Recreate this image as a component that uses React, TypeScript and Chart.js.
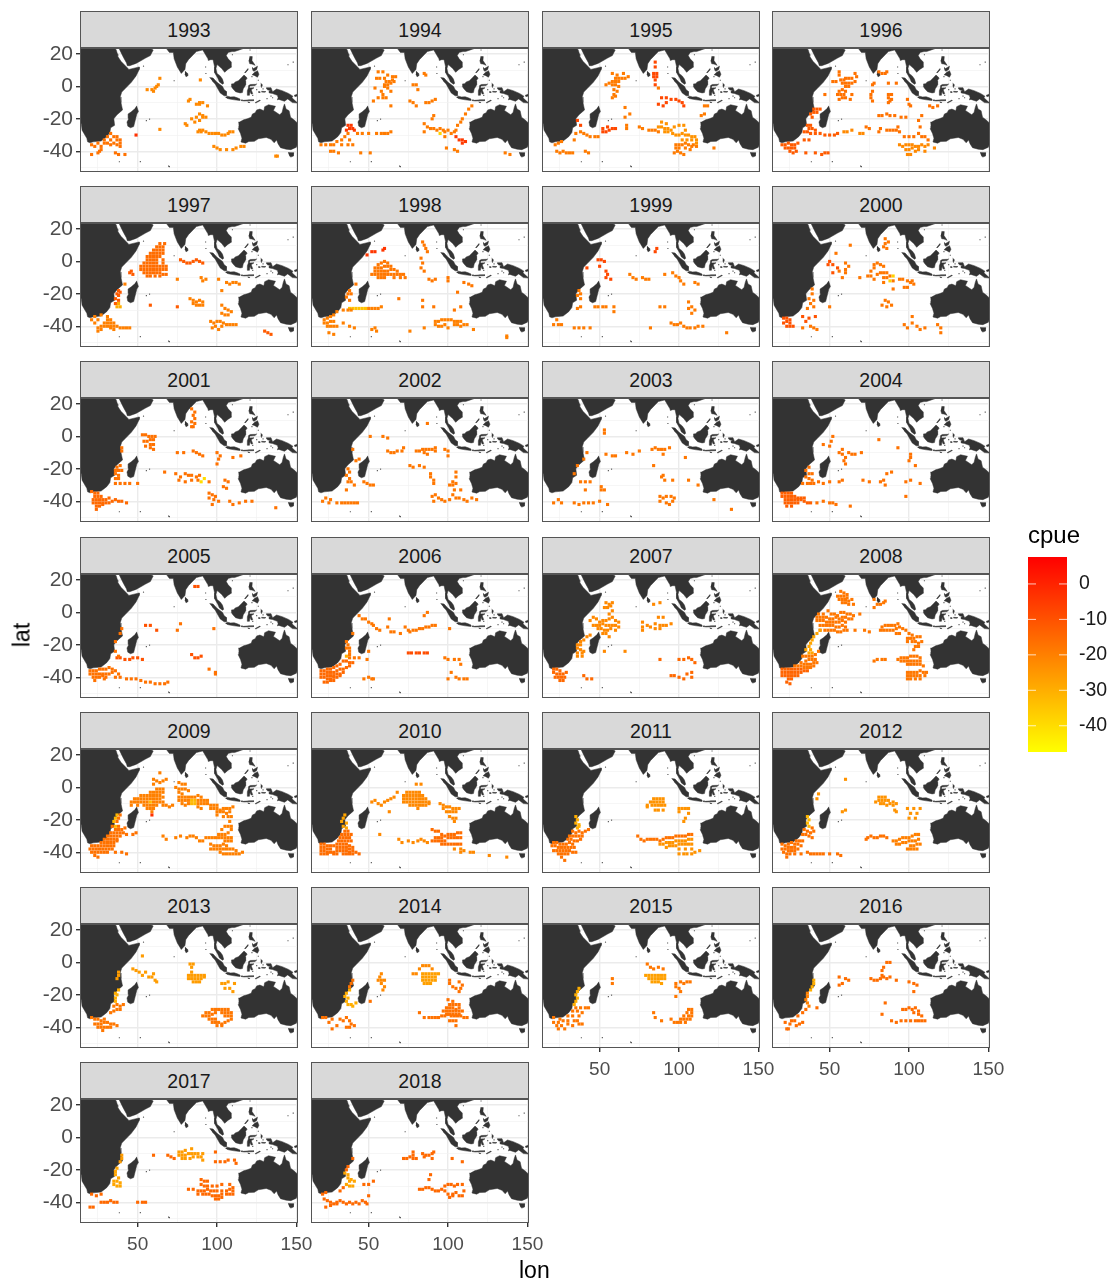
import React, { useEffect, useRef } from "react";
import { Chart, registerables } from "chart.js";

Chart.register(...registerables);

const FONT = '"Liberation Sans", Arial, sans-serif';
const LON_MIN = 13.7, LON_MAX = 151, LAT_MIN = -52.8, LAT_MAX = 23.7;
const CPUE_MIN = -47.4, CPUE_MAX = 7.6;

type Pt = number[];
// land outlines, [lon, lat]
const africa: Pt[] = [[5,26],[35,26],[35.5,24],[36.5,22.5],[37.3,20],[37.5,18.5],[39.5,15.5],[43,12],[44.5,10.5],[51,12],[51,10.5],[49,6.5],[46,2.5],[42,-1.5],[40,-3.5],[39,-6.5],[39.5,-10],[40.5,-14.5],[37,-17.5],[35,-20],[35.5,-24],[33,-25.5],[32.5,-28.5],[30.5,-31],[27,-33.7],[22,-34.2],[20,-34.8],[18.5,-34.2],[18,-32],[15,-27],[14.5,-23],[12,-20],[5,-20]];
const arabia: Pt[] = [[37,26],[39,22],[41,18],[43,14.5],[43.5,12.8],[45,12.8],[49,14.2],[52,15.8],[55,17.5],[58,19],[59.8,22.5],[57,24],[56,27]];
const asia: Pt[] = [[67,27],[68,23.5],[70,21],[72.5,21],[73,17],[75,12],[77.5,8],[79.8,10.5],[80.3,14],[82,16.5],[85,19.5],[87,21.5],[89,22],[91,22.5],[92.5,20],[94.3,17],[94.5,16],[96,16.5],[97.5,16.5],[98.5,12],[98.5,8.5],[100.5,5],[101.5,2.8],[103.5,1.3],[104.2,2],[103.4,4.5],[102,6.5],[100,8],[99.3,11],[100,13.5],[101,12.7],[103,11],[104.8,8.7],[106.8,10.5],[109.2,12],[109,15],[107,17],[105.8,19],[107,21],[109.5,21.5],[111,21.5],[114,22.5],[117,23.5],[120,27]];
const sumatra: Pt[] = [[95.3,5.5],[97.5,5.2],[100,2.5],[103.5,0],[104.5,-2],[106,-3.2],[105.8,-5.8],[104.5,-5.8],[102,-4],[100.5,-1.5],[98.8,1.5],[97,3.3]];
const java: Pt[] = [[105.3,-6.8],[106.5,-6],[108.5,-6.5],[110.8,-6.4],[112.7,-7],[114.5,-7.8],[114.4,-8.7],[111,-8.3],[108,-7.8],[106.4,-7.4]];
const sunda: Pt[] = [[115,-8.3],[116.5,-8.6],[119,-8.4],[120,-8.3],[123,-8.2],[123,-8.8],[119.5,-8.9],[117,-9],[115,-8.7]];
const timor: Pt[] = [[124,-10],[127,-8.4],[127,-8.9],[124.3,-10.3]];
const sumba: Pt[] = [[119.3,-9.5],[120.8,-10],[119.5,-9.9]];
const borneo: Pt[] = [[109,1.5],[110.5,1.7],[111.5,2.8],[113.5,3.5],[115.5,5.5],[117,7],[119,5.2],[117.8,3.5],[118,1],[117.5,0],[116.5,-1.5],[116,-3.8],[114.5,-4],[111.7,-3.3],[110,-1.5],[109,0]];
const sulawesi: Pt[] = [[119.8,0.5],[121,1.2],[124.5,1.3],[125,1.6],[124,0.5],[120.5,0.3],[120.2,-1],[123.3,-0.9],[121.5,-2],[122.5,-4.5],[121.5,-4.7],[120.8,-3],[120.4,-5.5],[119.5,-5.5],[119.3,-3.4],[118.9,-2.7],[119.8,-0.8]];
const luzon: Pt[] = [[120.5,18.5],[122.2,18.4],[122,16],[124,13],[122,13.8],[120.6,14],[120,16]];
const mindanao: Pt[] = [[122,7],[123.5,8.6],[125.5,9.7],[126.4,7.5],[125.5,5.7],[124,6.5]];
const visayas: Pt[] = [[122,11.8],[123,11],[125.5,12.5],[125,10.5],[123.3,9.3],[122.4,10]];
const palawan: Pt[] = [[117.3,8.4],[119.5,11],[119.6,10.3],[117.8,8.3]];
const halmahera: Pt[] = [[127.5,2],[128.6,1],[128,-0.7],[127.6,0.5]];
const seram: Pt[] = [[128,-3],[130.8,-3.2],[130,-3.6],[128,-3.5]];
const buru: Pt[] = [[126,-3.2],[127,-3.3],[127,-3.8],[126,-3.7]];
const newGuinea: Pt[] = [[131,-0.8],[134,-0.8],[135,-3.3],[137.5,-1.6],[141,-2.6],[145,-4.3],[147.8,-6],[147.2,-7],[150.8,-10.3],[147.5,-10],[144.5,-7.7],[142.5,-9.2],[139,-8],[138,-8.3],[138.5,-7],[138,-5.5],[135,-4.4],[133,-4],[132.8,-2.8],[134,-2.5],[132,-2.2],[131,-1.3]];
const newBritain: Pt[] = [[148.5,-5.6],[151.5,-4.3],[152,-5.5],[149,-6.3]];
const australia: Pt[] = [[113.5,-22],[114.2,-22],[116.8,-20.6],[119,-20],[121.5,-19],[122.3,-17],[124,-16.3],[125,-14.5],[127,-14],[129.5,-15],[130,-12.5],[132.5,-11.3],[135.5,-12],[136.8,-12.2],[135.5,-14.8],[139.5,-17.5],[141,-16],[141.7,-13],[142.5,-10.8],[143.5,-14],[145.4,-15],[146.3,-19],[149,-21],[151,-23],[155,-25],[155,-39],[151,-34],[150,-37.5],[146.5,-39],[143.5,-38.7],[140,-37.8],[138.5,-35.5],[137.5,-33],[136,-34.8],[134,-32.6],[131,-31.5],[126,-32.3],[123.5,-33.9],[120,-34],[118,-35],[115.1,-34.3],[115.7,-32],[114.8,-29],[113.3,-26],[113.7,-24.5]];
const tasmania: Pt[] = [[144.7,-40.8],[148.3,-40.9],[148,-43],[146.5,-43.6],[145.5,-42.8]];
const madagascar: Pt[] = [[49.3,-12],[50.5,-15.5],[49.5,-17],[47.5,-24.8],[45.5,-25.5],[43.8,-24.5],[43.3,-22],[44.5,-19.8],[44,-17],[46,-15.7],[48,-14]];
const sriLanka: Pt[] = [[79.8,9.5],[81.5,8],[81.8,6.8],[80.5,5.9],[79.8,7.5]];
const landShapes: Pt[][] = [africa, arabia, asia, sumatra, java, sunda, timor, sumba, borneo, sulawesi, luzon, mindanao, visayas, palawan, halmahera, seram, buru, newGuinea, newBritain, australia, tasmania, madagascar, sriLanka];
const islets: Pt[] = [[69.5,-49.2],[70,-49.5],[55.5,-21.1],[57.5,-20.2],[53.7,12.5],[92.8,12],[93,8],[109.7,19.5],[121,23.5],[120.8,22.5],[122,6],[135,-7],[131.5,-7.5],[134,-6],[129,-1.5],[125,-2],[122.5,-5.5],[126,3.8],[116,-8.5],[38.5,-46.5],[51.7,-46.4],[73,3.5],[148,15],[144.7,13.4]];

// cells by year: each group is [cpue, lon, lat, lon, lat, ...]
const c1993 = [[-17,33,-29,35,-31,37,-31,31,-31,29,-33,33,-33,37,-33,39,-33,25,-35,29,-35,31,-35,35,-35,39,-35,21,-36,23,-37,27,-37,33,-36,37,-36,39,-37,21,-42,25,-41,26,-40,27,-39,36,-41,38,-42,42,-42],[-3,49,-30],[-22,64,-26.5,56,-2,59,-2,61,-1,60,-3,62,0,63,1,64,5,89.5,4,83,-8,82,-9,89,-10,91,-10,87,-11,89,-11,94,-12,89,-17,91,-18,87,-19,91,-19,93,-19,89,-21,84,-20,86,-22,80,-23,81,-24,89,-27,91,-27,88,-28,90,-28,93,-28,95,-29,97,-29,99,-29,101,-29,103,-30,105,-30,107,-29,110,-28,108,-28,98,-37,100,-38,102,-39,106,-39,110,-39,112,-38,115,-37,117,-37,137,-43,138,-43]];
const c1994 = [[-19,56,9,59,9,62,7,55,5,57,5,60,5,65,6,67,6,61,3,63,3,65,4,66,3,60,1,62,1,64,2,54,-1,60,0,62,-1,58,-3,64,-3,56,-7,59,-7,61,-7,59,-5,53,-9,78,1,80,1,81,-2,85,8,86,7,76,-9,78,-10,80,-12,86,-10,88,-10,90,-9,92,-8,64,-12,115,-12,113,-14,111,-17,109,-20,108,-22,106,-24,105,-27,91,-18,90,-20,85,-23,87,-25,89,-26,91,-26,93,-27,95,-26,97,-27,85,-28,98,-28,100,-27,102,-29,104,-28,98,-31,99,-38,104,-39,106,-40,136,-41,139,-42,43,-29,46,-29,50,-29,55,-29,58,-29,60,-29,62,-29,64,-28,20,-36,23,-36,26,-36,28,-36,30,-34,33,-33,35,-31,37,-29,38,-33,37,-36,40,-36,33,-36,26,-40,28,-40,31,-41,45,-41,51,-41],[-38,95,-29],[-5,105,-31,107,-33,109,-33,111,-34,109,-35,37,-24,39,-24,38,-26,40,-26,36,-27,41,-27]];
const c1995 = [[-19,58,8,61,7,65,8,68,6,60,5,62,5,64,5,66,5,58,3,60,3,62,3,54,1,56,2,58,1,60,1,62,0,59,-2,61,-3,59,-5,58,-7,60,-6,87,-1,116,-12,118,-12,116,-17,114,-18,66,-13,69,-17,66,-19,67,-24,67,-26,75,-25,77,-26,81,-27,83,-27,85,-27,87,-28,98,-36,100,-36,102,-36,104,-35,106,-36,109,-36,111,-37,98,-38,100,-38,104,-38,107,-39,97,-41,99,-40,101,-41,103,-42,108,-37,122,-38,35,-29,38,-28,40,-29,42,-30,44,-31,47,-31,49,-31,23,-40,25,-41,27,-40,29,-41,31,-41,33,-41,41,-40,43,-41,34,-33,22,-36,24,-35,26,-34],[-24,89,-22,92,-23,87,-25,89,-25,91,-26,93,-26,95,-27,97,-25,100,-24,103,-24,104,-27,91,-28,93,-28,96,-29,98,-30,100,-30,102,-29,104,-30,106,-30,108,-31,110,-31,102,-33,105,-33,108,-33,111,-33,111,-35],[-8,85,15,85,12,84,8,86,8,84,6,86,6,85,4,85,1,89,-7,92,-7,95,-8,98,-8,100,-9,102,-10,103,-12,87,-11,90,-12,92,-10,36,-21,38,-24,52,-28,54,-28,56,-27,58,-26,60,-26,52,-26,55,-25]];
const c1996 = [[-17,56,9,56,7,66,8,67,6,52,3,54,3,57,4,59,4,60,5,62,5,64,5,66,3,58,2,60,2,62,2,64,2,60,0,62,0,56,-3,58,-2,60,-3,55,-5,57,-5,59,-5,56,-8,58,-7,60,-7,63,-8,64,-5,47,-5,81,9,83,8,85,8,86,9,78,2,77,1,87,2,92,2,77,-3,76,-5,76,-7,77,-9,87,-5,89,-5,87,-7,88,-9,89,-8,87,-10,99,-8,100,-11,101,-12,113,-12,115,-13,118,-12,81,-18,83,-18,86,-17,88,-18,91,-18,95,-19,98,-19,108,-18,106,-21,73,-25,75,-26,81,-28,82,-26,86,-27,88,-27,90,-27,92,-27,93,-25,94,-28,107,-25,97,-31,100,-31,103,-31,106,-29,108,-31,110,-31,112,-33],[-22,94,-36,96,-37,98,-36,100,-36,102,-36,104,-37,106,-37,108,-36,110,-37,112,-36,116,-38,98,-39,100,-39,102,-38,104,-40,106,-39,110,-40,99,-42,101,-42,59,-28,61,-28,64,-27,69,-29,71,-29],[-12,40,-14,42,-14,44,-14,38,-17,40,-16,42,-16,39,-19,36,-24,38,-24,37,-26,39,-26,41,-27,34,-28,36,-28,38,-29,41,-29,44,-29,47,-30,50,-30,53,-30,55,-29,34,-33,37,-33,20,-36,22,-36,24,-35,26,-36,28,-36,30,-35,22,-38,24,-38,26,-38,28,-38,25,-40,27,-41,29,-40,35,-41,41,-41,45,-42,47,-41,49,-41]];
const c1997 = [[-16,64,11,67,11,62,9,64,9,66,9,60,7,62,7,64,7,66,7,58,5,60,5,62,5,64,5,66,5,56,3,58,3,60,3,62,3,64,3,56,1,58,1,60,1,62,1,66,1,54,-1,56,-1,58,-1,60,-1,62,-1,66,-1,52,-3,54,-3,56,-3,58,-3,60,-3,62,-3,64,-3,66,-3,68,-3,52,-5,54,-5,56,-5,58,-5,60,-5,62,-5,64,-5,66,-5,68,-5,54,-7,56,-7,58,-7,60,-7,62,-7,64,-7,66,-8,68,-8,56,-9,58,-9,61,-9,64,-9],[-12,46,-6,45,-7,47,-8,77,1,79,0,81,-1,83,-1,85,0,87,1,89,0,91,-1,38,-18,37,-20,38,-21,39,-19,36,-23,38,-24,36,-26,58,-27,75,-28,130,-43,132,-44,134,-45],[-20,75,-11,90,-10,91,-12,93,-11,101,-11,106,-13,108,-14,110,-13,112,-13,114,-14,103,-18,42,-14,83,-23,85,-24,87,-25,89,-24,91,-25,85,-26,87,-27,89,-27,91,-27,103,-27,105,-29,107,-30,109,-31,103,-32,105,-33,107,-33,96,-37,98,-38,100,-37,102,-37,104,-38,106,-39,108,-39,110,-39,112,-39,97,-41,99,-40,101,-42,103,-40,21,-36,23,-34,25,-36,23,-38,27,-33,31,-34,33,-36,31,-36,29,-38,31,-38,33,-38,35,-38,27,-40,29,-40,31,-40,33,-40,35,-40,37,-40,39,-41,41,-41,43,-41,45,-41,25,-41,27,-42,25,-43,33,-41,35,-42],[-30,38,-26,37,-28,39,-28]];
const c1998 = [[-4,60,8,59,7,54,6,52,6,49,4],[-18,84,12,85,10,86,8,87,6,83,2,84,-1,83,-4,85,-6,54,-4,56,-2,58,-1,60,0,62,-1,56,-4,58,-4,60,-3,62,-3,64,-3,54,-6,56,-6,58,-6,60,-6,62,-6,64,-5,66,-5,68,-6,52,-8,54,-8,56,-8,58,-8,60,-8,62,-8,64,-8,66,-8,68,-8,70,-8,72,-8,56,-10,58,-10,60,-10,66,-10,70,-10,73,-10,88,-11,90,-12,92,-11,100,-10,100,-12,110,-13,113,-14,115,-15,106,-19,42,-14,38,-18,37,-20,39,-20,36,-22,38,-24,69,-23,84,-24,84,-28,91,-28,104,-30,108,-28],[-34,38,-29,40,-29,42,-29,44,-29,46,-29,48,-29],[-20,50,-29,52,-29,54,-29,56,-29,58,-28,92,-37,94,-37,96,-36,98,-36,100,-36,102,-36,104,-37,106,-37,108,-37,92,-39,94,-40,96,-40,98,-39,104,-39,106,-39,108,-40,110,-39,112,-39,100,-41,76,-43,85,-41,137,-46,137,-47,116,-42,22,-36,24,-35,26,-34,28,-33,30,-31,34,-30,37,-30,39,-30,22,-38,24,-38,26,-37,28,-37,24,-40,26,-40,28,-40,30,-40,34,-38,38,-40,41,-41,54,-41,55,-43,52,-42,25,-44,28,-45]];
const c1999 = [[-8,49,1,51,1,53,0,50,-3,42,-4,54,-6,55,-8,54,-10,57,-11,86,8,85,6],[-19,69,-8,71,-10,73,-11,77,-10,79,-11,81,-11,91,-8,96,-7,98,-9,100,-10,101,-12,103,-14,110,-13,112,-14,37,-18,38,-20,36,-21,38,-23,36,-29,38,-28,47,-28,49,-28,52,-28,54,-28,59,-28,59,-31,88,-28,91,-28,106,-25,108,-28,106,-29,110,-30,108,-32,23,-36,21,-39,24,-39,26,-39,34,-41,37,-41,40,-41,44,-41,82,-41,95,-38,97,-39,99,-39,101,-38,103,-40,105,-41,107,-41,110,-41,112,-40,115,-40,130,-44]];
const c2000 = [[-18,85,14,85,11,87,12,84,9,86,8,63,10,54,5,60,-1,62,-3,60,-5,56,-6,60,-7,74,-9,76,-6,78,-4,78,-2,80,-1,82,-2,84,-3,76,-9,78,-11,80,-8,82,-7,84,-7,86,-7,88,-9,90,-12,84,-10,86,-10,84,-13,94,-11,96,-11,99,-12,101,-13,103,-14,97,-16,99,-16,102,-12,90,-17,58,-10,69,-10,39,-17,39,-20,37,-23,40,-24,38,-26,40,-28,50,-28,36,-29,85,-24,83,-27,87,-25,86,-28,89,-27,102,-34,102,-38,97,-39,99,-41,105,-40,107,-42,110,-41,118,-39,120,-41,120,-44,33,-41,38,-40,40,-41,42,-42],[-38,90,-9,88,-12],[-10,50,0,49,-2,52,-2,55,-4,52,-7,21,-35,23,-35,25,-36,23,-37,25,-38,21,-38,23,-40,25,-40,27,-40,33,-34,37,-35,41,-34,35,-37]];
const c2001 = [[-17,84,17,86,15,85,13,86,11,84,9,86,8,84,6,85,6,53,1,55,1,57,0,59,0,61,0,58,-2,60,-2,54,-3,56,-3,58,-5,60,-5,55,-6,58,-7,60,-8,40,-7,40,-9,75,-10,79,-10,85,-9,87,-10,89,-11,91,-12,100,-10,102,-12,101,-14,110,-13,115,-12,100,-17,37,-19,39,-18,36,-21,38,-21,40,-21,36,-23,38,-24,36,-26,38,-26,36,-29,39,-29,42,-29,45,-29,50,-29,67,-22,74,-23,77,-25,80,-23,82,-24,84,-24,87,-25,89,-24,76,-27,80,-28,84,-27,88,-27,95,-28,105,-27,107,-28,104,-31,106,-32,95,-35,97,-36,99,-37,95,-38,98,-39,101,-40,97,-42,108,-40,110,-42,114,-41,118,-40,122,-40,137,-44],[-40,90,-28,92,-26],[-15,21,-34,23,-35,25,-35,23,-37,25,-37,27,-37,22,-39,24,-39,26,-39,28,-39,30,-39,22,-41,24,-41,26,-41,28,-41,30,-41,32,-41,34,-40,36,-39,38,-40,40,-40,43,-41,24,-43,26,-43,28,-42,24,-45,32,-38]];
const c2002 = [[-18,87,8,51,0,59,0,62,-1,62,-9,64,-10,66,-10,68,-9,71,-9,72,-7,80,-9,82,-9,84,-8,86,-8,88,-8,90,-8,92,-9,85,-10,87,-11,98,-8,100,-9,100,-12,92,-7,40,-8,44,-14,42,-15,37,-20,38,-22,36,-24,38,-26,37,-28,39,-28,47,-28,49,-29,51,-30,53,-30,41,-30,36,-33,76,-18,78,-19,82,-18,85,-19,89,-23,89,-25,91,-27,91,-29,105,-22,105,-25,103,-28,101,-30,103,-30,105,-29,104,-33,108,-33,90,-37,92,-36,94,-38,96,-39,98,-40,101,-39,103,-36,105,-38,107,-38,110,-39,112,-40,115,-38,118,-39,91,-40,21,-40,23,-38,25,-41,26,-39,30,-41,33,-41,35,-41,37,-41,39,-41,41,-41,43,-41]];
const c2003 = [[-18,53,4,53,2,42,-10,40,-14,36,-18,34,-23,38,-28,41,-28,44,-28,41,-33,51,-31,53,-33,51,-33,54,-11,58,-12,60,-12,67,-10,71,-11,75,-9,83,-8,85,-7,87,-8,89,-8,91,-8,94,-7,90,-11,104,-13,84,-18,89,-25,91,-27,90,-24,96,-27,106,-27,112,-30,88,-37,90,-38,92,-37,95,-37,97,-38,88,-40,92,-41,96,-40,94,-42,21,-41,24,-39,26,-41,34,-41,37,-42,40,-41,43,-41,46,-41,50,-40,55,-42,122,-39,133,-45]];
const c2004 = [[-17,52,0,51,-3,50,-6,46,-5,58,-8,56,-10,58,-11,60,-13,59,-15,60,-17,62,-10,64,-11,66,-11,70,-10,81,-2,93,-7,101,-11,101,-13,100,-15,104,-18,37,-19,35,-21,37,-23,39,-23,35,-25,37,-26,39,-27,33,-29,36,-29,38,-29,40,-29,43,-28,46,-29,50,-28,56,-28,58,-27,71,-27,75,-28,82,-28,84,-27,86,-23,89,-22,107,-29,98,-28,101,-27,85,-30,98,-37,50,-41,52,-41,54,-42,63,-43,42,-41,46,-40],[-13,20,-35,22,-35,24,-35,26,-35,20,-37,22,-37,24,-37,26,-37,28,-37,30,-38,32,-38,34,-38,22,-39,24,-39,26,-39,28,-39,30,-39,32,-39,34,-40,22,-41,24,-41,26,-41,28,-41,30,-41,36,-41,38,-41,23,-43,26,-43]];
const c2005 = [[-10,88,16,86,16,55,-8,58,-8,62,-11,37,-28,39,-28,42,-29,45,-29,47,-28,50,-28,53,-29,84,-26,86,-28,88,-28,90,-27],[-17,77,-7,75,-11,98,-10,40,-10,39,-13,36,-18,36,-24,38,-27,95,-35,99,-37,99,-38,20,-36,22,-36,24,-36,26,-35,28,-35,30,-35,32,-34,34,-35,36,-36,20,-38,22,-38,24,-38,26,-38,28,-38,30,-38,32,-38,34,-37,38,-38,22,-40,24,-40,26,-40,28,-39,30,-40,36,-40,39,-40,23,-42,29,-41,43,-41,46,-41,49,-41,52,-42,55,-43,58,-43,61,-44,64,-44,67,-44,69,-43]];
const c2006 = [[-18,44,-2,46,-4,48,-4,50,-6,52,-7,63,-4,87,0,85,-2,53,-8,55,-10,57,-11,62,-9,64,-12,66,-12,73,-9,75,-11,76,-12,78,-11,80,-11,82,-10,84,-10,86,-9,88,-9,90,-8,92,-8,70,-13,101,-10,40,-13,36,-18,37,-20,38,-22,36,-22,38,-24,38,-26,38,-28,41,-28,44,-28,50,-24,49,-29,98,-28,100,-29,104,-29,107,-29,108,-32,100,-41,105,-40,107,-41,110,-41,112,-41,102,-37,47,-41,50,-40,52,-41,53,-41],[-9,75,-25,77,-25,80,-25,82,-25,85,-25,87,-25],[-30,36,-27],[-15,20,-36,22,-36,24,-35,26,-35,28,-34,30,-33,32,-32,34,-30,36,-30,38,-31,40,-31,24,-37,26,-37,28,-37,30,-36,32,-35,34,-35,36,-34,38,-33,20,-38,22,-38,24,-39,26,-39,28,-39,30,-38,32,-38,34,-37,20,-40,22,-40,24,-41,26,-41,28,-40,30,-40,32,-39,22,-43,24,-43,26,-42,28,-42]];
const c2007 = [[-22,54,6,56,5,58,6,53,3,55,3,57,4,58,1,56,-1,84,5,88,6,46,-3,44,-5,48,-4,50,-6,52,-5,54,-5,56,-4,58,-3,60,-5,62,-6,46,-8,48,-8,50,-8,52,-7,54,-8,56,-8,58,-8,60,-8,62,-9,49,-10,51,-10,53,-11,55,-11,57,-10,60,-11,52,-13,54,-13,56,-15,77,-6,77,-9,77,-11,80,-8,82,-9,85,-7,88,-8,90,-8,92,-8,85,-10,88,-10,95,-7,87,-3,90,-3,44,-14,42,-15,40,-17,38,-18,36,-20,38,-20,36,-22,38,-23,40,-24,36,-25,39,-25,36,-27,39,-27,53,-24,66,-24],[-15,40,-39,42,-41,45,-41,21,-35,23,-35,25,-36,21,-37,23,-38,25,-38,27,-38,29,-37,22,-40,24,-40,26,-40,28,-40,25,-42,27,-42,88,-29,100,-29,103,-29,106,-28,108,-29,110,-31,95,-39,97,-39,100,-40,103,-41,105,-38,108,-40,108,-37]];
const c2008 = [[-18,57,13,59,12,61,11,55,10,57,10,59,10,61,9,56,8,58,8,60,8,62,7,64,8,58,6,60,6,62,5,65,5,78,8,80,5,82,5,84,6,85,7,78,3,43,-1,46,-1,49,1,51,-1,53,-1,55,-2,57,0,59,0,61,-1,63,-1,65,-2,69,-1,42,-3,44,-3,46,-3,48,-3,50,-4,52,-4,54,-3,56,-4,58,-3,60,-3,62,-4,64,-4,42,-5,44,-5,46,-5,48,-6,50,-6,52,-6,54,-6,56,-6,58,-5,60,-6,44,-8,46,-8,48,-8,50,-8,52,-8,54,-9,56,-9,58,-8,60,-9,47,-11,49,-11,51,-11,53,-11,55,-12,57,-12,59,-11,44,-11,61,-11,66,-11,72,-11,75,-12,83,-9,85,-8,87,-8,89,-8,91,-8,93,-7,82,-11,84,-11,86,-11,88,-11,90,-11,92,-10,94,-9,96,-10,98,-11,92,-13,94,-13,100,-13,102,-14,99,-16,101,-16,103,-16,105,-15,107,-15,99,-18,102,-18,104,-18,106,-19,108,-18,104,-21,106,-21,103,-23,78,-30,80,-29,83,-29,85,-29,93,-29,95,-28,97,-28,99,-28,101,-27,103,-27,105,-27,107,-28,95,-30,97,-30,99,-30,101,-30,103,-30,105,-30,107,-30,99,-32,101,-32,103,-32,105,-32,107,-32,109,-33,99,-37,101,-37,103,-37,105,-37,107,-36,109,-37,111,-37,99,-39,101,-39,103,-39,105,-39,107,-39,110,-39,99,-41,101,-41,104,-41,107,-41],[-28,44,-11,42,-13,40,-15,39,-17,38,-19,37,-21,38,-23,35,-23,37,-25,39,-25],[-18,33,-27,35,-27,37,-27,39,-27,41,-26,43,-24,37,-29,39,-29,41,-29,35,-30,32,-31,34,-32,36,-32,38,-32,40,-31,42,-31,28,-33,30,-33,32,-33,34,-34,36,-34,38,-34,40,-33],[-14,20,-35,22,-35,24,-35,26,-35,28,-35,30,-35,32,-35,34,-36,36,-36,20,-37,22,-37,24,-37,26,-37,28,-37,30,-37,32,-37,20,-39,22,-39,24,-39,26,-39,28,-39,30,-39,24,-41,26,-41,23,-43,25,-44]];
const c2009 = [[-20,64,9,60,5,62,4,64,3,66,4,68,5,60,2,76,3,78,2,80,2,74,0,76,-1,78,-1,80,-1,82,-2,62,-1,64,-1,66,-1,58,-3,60,-3,62,-3,64,-3,66,-3,52,-5,54,-5,56,-5,58,-5,60,-5,62,-5,64,-5,48,-7,50,-7,52,-7,54,-7,56,-7,58,-7,60,-7,62,-7,64,-7,66,-6,46,-9,48,-9,50,-9,52,-9,54,-9,56,-9,60,-9,62,-9,64,-9,66,-9,46,-11,50,-11,54,-11,56,-11,58,-11,60,-11,62,-11,66,-11,68,-11,70,-12,72,-11,56,-13,58,-13,60,-13,59,-15,76,-3,78,-4,76,-6,78,-6,80,-6,82,-6,84,-6,86,-6,88,-5,90,-6,76,-8,78,-8,80,-8,82,-8,88,-8,90,-8,92,-8,94,-8,78,-10,80,-11,82,-10,88,-10,90,-10,92,-10,94,-10,96,-11,98,-11,100,-11,88,-12,90,-13,96,-13,98,-13,100,-13,102,-14,104,-13,106,-13,108,-13,110,-12,100,-15,102,-15,104,-15,106,-16,108,-15,100,-17,104,-18,107,-18,109,-18,108,-21,66,-30,68,-32,74,-31,77,-30,81,-31,83,-30,85,-30,87,-31,89,-33,91,-33,93,-31,95,-31,97,-31,99,-31,101,-29,103,-29,105,-29,107,-28,109,-26,103,-26,105,-24,107,-24,109,-24,101,-31,103,-31,105,-31,107,-31,109,-31,105,-33,107,-33,109,-33,96,-35,98,-36,100,-36,102,-36,104,-35,106,-36,96,-38,98,-38,100,-38,102,-38,104,-38,106,-38,108,-38,110,-38,112,-39,102,-40,104,-41,106,-41,108,-41,110,-41,112,-41,114,-41,116,-40],[-32,58,-9,84,-8,86,-8,84,-10,86,-10,37,-17,36,-19,35,-21,36,-24],[-3,59,-17],[-17,39,-17,38,-19,37,-21,34,-24,38,-24,36,-26,38,-26,40,-26,42,-25,33,-28,35,-28,37,-28,39,-28,41,-28,43,-29,47,-29,49,-28,31,-30,33,-30,35,-30,37,-30,39,-30,29,-32,31,-32,33,-32,35,-32,37,-32,27,-34,29,-34,31,-34,33,-34,35,-34,37,-33,21,-36,23,-36,25,-36,27,-36,29,-36,31,-36,33,-36,35,-36,20,-38,22,-38,24,-38,26,-38,28,-38,30,-38,32,-38,34,-38,21,-40,23,-40,25,-40,27,-40,29,-40,31,-40,36,-40,40,-40,43,-41,23,-42,25,-43]];
const c2010 = [[-22,80,2,83,2,68,-3,52,-9,54,-8,56,-10,58,-11,60,-9,62,-8,64,-7,66,-6,63,-15,74,-3,76,-3,78,-3,80,-3,82,-3,72,-5,74,-5,76,-5,78,-5,80,-5,82,-5,84,-5,72,-7,74,-7,76,-7,78,-7,80,-7,82,-7,84,-7,86,-7,72,-9,74,-9,76,-9,78,-9,80,-9,82,-9,84,-9,86,-9,88,-9,76,-11,78,-11,80,-11,82,-11,84,-11,86,-11,88,-10,81,-13,95,-10,97,-11,99,-12,97,-13,101,-12,103,-13,105,-13,107,-13,99,-15,101,-15,103,-15,105,-15,101,-18,103,-19,105,-19,104,-21,57,-29,69,-32,71,-34,75,-33,78,-34,81,-33,83,-32,85,-33,87,-34,104,-38,108,-38,108,-40,110,-39,114,-40,116,-40,126,-42,137,-43],[-28,35,-17,34,-19,33,-21,36,-22,34,-24,36,-25],[-16,90,-26,92,-27,94,-27,96,-29,92,-31,94,-31,96,-31,98,-30,100,-29,102,-29,104,-29,106,-28,108,-28,90,-33,92,-33,94,-33,96,-33,98,-33,100,-31,102,-31,104,-31,106,-31,108,-31,96,-35,98,-35,100,-35,102,-35,104,-35,106,-35,108,-35,35,-27,37,-27,33,-29,35,-29,37,-29,39,-29,32,-31,34,-31,36,-31,38,-31,31,-33,33,-33,35,-33,37,-33,39,-33,20,-35,22,-35,24,-36,26,-36,28,-36,30,-35,32,-35,34,-35,36,-35,38,-36,20,-37,22,-37,24,-38,26,-38,30,-37,32,-37,34,-37,36,-37,38,-38,40,-37,20,-39,22,-39,24,-40,26,-40,28,-40,30,-39,32,-39,34,-39,36,-39,38,-40,40,-39,42,-40,20,-41,22,-41,24,-41,28,-41,30,-41,34,-41,36,-41,38,-41,40,-41,44,-41]];
const c2011 = [[-24,84,-7,86,-7,88,-7,90,-7,82,-9,84,-9,86,-9,88,-9,90,-9,80,-12,80,-11,83,-11,85,-11,87,-11,89,-11,91,-11,85,-14,87,-14,90,-14,100,-13,102,-13,104,-13,106,-13,100,-15,106,-16,104,-19,103,-21,88,-35,90,-35,92,-34,94,-34,96,-34,98,-33,100,-33,102,-33,104,-33,106,-32,108,-32,92,-37,94,-36,96,-36,98,-36,100,-35,102,-35,104,-35,106,-35,108,-35,100,-38,104,-38,108,-38,100,-41,103,-41,105,-41,108,-41,110,-40,113,-39],[-30,35,-18,36,-20,35,-22,37,-23,36,-25,37,-24],[-17,74,-30,76,-32,78,-33,80,-32,82,-32,84,-32,86,-32,88,-33,90,-32,92,-31,94,-31,96,-31,98,-30,100,-30,102,-30,104,-30,106,-29,108,-29,33,-27,35,-28,37,-27,39,-28,41,-27,43,-26,31,-30,33,-30,35,-30,37,-30,39,-30,30,-32,32,-32,34,-33,36,-33,38,-32,21,-34,23,-34,25,-35,27,-35,29,-35,31,-34,33,-35,20,-36,22,-36,24,-37,26,-37,28,-37,30,-37,32,-37,34,-37,21,-39,23,-39,25,-39,27,-39,29,-39,31,-39,33,-40,35,-40,24,-41,26,-41,28,-41,30,-41,26,-43,28,-45]];
const c2012 = [[-24,60,5,43,-4,42,-7,58,-15,60,-14,81,-6,83,-6,85,-6,79,-9,81,-8,83,-8,85,-8,87,-8,90,-9,92,-10,82,-10,84,-10,86,-11,88,-10,90,-11,91,-14,92,-15,99,-13,103,-13,107,-13,101,-16,105,-16,100,-19,104,-19],[-32,36,-18,37,-20,36,-22,37,-24],[-17,39,-25,34,-26,36,-27,38,-28,40,-27,33,-29,35,-29,37,-30,39,-31,31,-33,33,-33,29,-33,26,-34,28,-35,24,-35,30,-35,32,-36,20,-35,22,-36,24,-37,26,-37,28,-37,30,-38,20,-38,22,-38,24,-39,26,-39,28,-39,21,-40,23,-41,25,-41,28,-41,32,-41,36,-40,38,-41,40,-41,42,-41,44,-41,46,-41,50,-41,55,-41,57,-42,23,-43,74,-31,76,-30,73,-32,78,-31,80,-31,82,-30,84,-30,86,-31],[-20,90,-33,92,-33,94,-32,96,-31,98,-31,100,-31,102,-30,104,-29,106,-29,92,-35,94,-35,96,-34,98,-34,100,-33,102,-33,104,-33,106,-32,101,-36,103,-36,105,-35,107,-35,99,-38,101,-38,103,-38,105,-38]];
const c2013 = [[-26,53,4,83,-1,85,-1,84,-3,84,-6,82,-8,84,-8,86,-8,88,-8,90,-8,92,-8,82,-10,84,-10,86,-10,88,-10,90,-10,92,-9,85,-12,87,-12,89,-12,103,-13,105,-13,107,-12,111,-13,105,-16,108,-16,110,-18,47,-4,49,-5,51,-6,53,-8,55,-6,57,-9,59,-9,60,-7,61,-11,62,-12,38,-6,38,-8,37,-10],[-30,38,-17,36,-19,37,-20,36,-22,36,-24],[-18,35,-27,37,-26,39,-27,41,-26,35,-30,37,-29,39,-29,33,-31,21,-34,23,-35,25,-35,27,-36,29,-35,23,-38,25,-38,27,-38,29,-37,31,-37,33,-38,35,-38,25,-40,27,-40,29,-40,31,-40,33,-40,37,-39,28,-42,93,-31,95,-31,91,-33,97,-29,99,-29,101,-29,103,-29,105,-29,107,-29,93,-33,95,-33,97,-32,99,-31,103,-31,105,-31,107,-31,109,-31,95,-35,97,-35,99,-35,105,-33,107,-33,109,-33,97,-37,99,-37,101,-37,103,-38,105,-37,107,-36,109,-35,100,-39,103,-39]];
const c2014 = [[-22,58,-7,57,-9,56,-11,58,-11,60,-11,58,-13,60,-15,59,-17,84,-2,86,-2,88,-2,82,-4,90,-4,78,-7,80,-7],[-27,84,-7,86,-7,88,-7,90,-7,92,-7,94,-7,84,-9,86,-9,88,-9,90,-9,92,-9,84,-11,86,-11,88,-11,90,-11,92,-11,85,-13,87,-13,89,-13],[-17,101,-11,101,-13,107,-12,109,-14,103,-15,105,-16,108,-16,107,-18,40,-11,39,-13,38,-15,51,-24,21,-34,23,-34,27,-35,32,-35,36,-34,34,-36,38,-36,25,-37,39,-38,41,-39,30,-39,36,-40,38,-40,27,-41,82,-31,85,-34,88,-34,90,-34,92,-34,94,-34,96,-33,98,-33,100,-32,102,-33,104,-33,106,-33,108,-33,110,-34,112,-34,100,-23,103,-24,101,-26,103,-26,105,-26,107,-26,99,-28,101,-28,103,-28,105,-29,107,-28,97,-30,99,-30,101,-30,103,-30,105,-30,107,-30,109,-30,99,-32,101,-32,103,-32,105,-32,107,-32,101,-36,103,-36,105,-36,105,-39],[-30,38,-17,36,-19,35,-21,37,-22,36,-24,37,-26,39,-26,40,-27,42,-25]];
const c2015 = [[-18,80,-1,82,-3,84,-4,87,-3,90,-4,98,-13,101,-12,103,-13,105,-12,107,-12,98,-15,100,-16,101,-18,58,-10,58,-13,98,-21,35,-28,38,-28,41,-28,43,-28,33,-30,36,-30,39,-31,21,-34,25,-35,30,-33,33,-33,37,-33,21,-37,24,-37,27,-36,30,-36,34,-36,36,-36,23,-39,26,-39,30,-38,33,-39,37,-38,39,-38,24,-41,28,-41,84,-31,85,-34,89,-36,106,-29,108,-29,105,-31,108,-31,103,-33,106,-33,108,-33,101,-35,103,-35,105,-35,107,-35,95,-35,97,-37,99,-37,101,-37,104,-37],[-27,79,-8,81,-8,83,-8,85,-8,87,-8,89,-8,91,-8,81,-10,83,-10,85,-10,87,-10,89,-10,91,-10,83,-12,85,-12,87,-12,89,-13],[-30,37,-16,36,-18,35,-20,36,-22,35,-24,34,-26]];
const c2016 = [[-16,86,0,88,0,84,-3,83,-5,76,-10,78,-11,80,-11,82,-10,84,-9,83,-8,86,-10,88,-9,92,-11,56,-9,58,-13,60,-10,62,-11,56,-14,100,-12,103,-13,105,-14,103,-18,42,-28,35,-29,33,-31,30,-33,26,-36,28,-36,22,-37,25,-38,29,-39,31,-38,33,-37,24,-41,23,-41,85,-25,96,-29,98,-29,100,-28,102,-29,104,-28,106,-30,103,-31,106,-32,108,-33,83,-32,89,-36,92,-37,95,-36,98,-36,101,-36,104,-36,106,-36,108,-36,110,-36],[-30,40,-11,40,-13,39,-15,38,-17],[-20,36,-19,36,-21,35,-23,36,-25,37,-27]];
const c2017 = [[-15,21,-35,24,-36,27,-35,27,-40,29,-40,31,-40,33,-39,35,-40,37,-40,20,-43,22,-43,50,-40,53,-40,55,-40,60,-11,69,-11,71,-12,73,-13,99,-15,102,-15,105,-15,107,-14,111,-14,112,-16,99,-9,90,-26,92,-27,94,-27,90,-29,92,-30,94,-30,97,-30,100,-30,103,-29,108,-29,110,-31,82,-32,85,-32,88,-33,90,-33,92,-33,94,-32,96,-33,98,-33,100,-33,103,-33,106,-33,108,-32,110,-33,88,-35,91,-35,93,-35,95,-35,97,-36,99,-36,101,-36,103,-35,106,-35,108,-35,110,-35,99,-38,101,-38,103,-37],[-26,76,-9,78,-9,80,-8,84,-7,76,-11,78,-11,80,-11,82,-10,84,-10,86,-10,88,-10,91,-10,78,-13,80,-13,83,-13,85,-12,88,-12,90,-12,91,-14,40,-11,40,-13,39,-15],[-28,37,-19,36,-21,36,-23,38,-25,35,-27,37,-27,39,-28,35,-29,37,-30,39,-30]];
const c2018 = [[-15,40,-13,37,-18,36,-20,32,-33,34,-31,47,-29,50,-29,53,-27,50,-36,21,-35,23,-34,22,-38,24,-39,26,-40,28,-41,30,-40,32,-39,34,-40,36,-41,38,-40,40,-41,42,-40,23,-43,26,-42,30,-41,44,-41,46,-39,48,-40,49,-41,72,-13,74,-13,76,-12,78,-9,78,-11,78,-13,80,-13,84,-10,86,-11,88,-11,90,-10,91,-9,85,-12,90,-13,102.6,-13,109,-15,89,-23,88,-26,82,-32,84,-32,86,-31,88,-31,90,-32,92,-33,94,-33,96,-32,98,-30,100,-29,102,-29,104,-30,106,-29,109,-29,98,-33,100,-35,103,-35,105,-34,107,-36,109,-36,110,-33,101,-37,103,-36],[-28,35,-22,37,-23,37,-25,39,-26,41,-27,38,-27,36,-29,38,-30,40,-30]];

const years = ["1993","1994","1995","1996","1997","1998","1999","2000","2001","2002","2003","2004","2005","2006","2007","2008","2009","2010","2011","2012","2013","2014","2015","2016","2017","2018"];
const cellsByYear = [c1993,c1994,c1995,c1996,c1997,c1998,c1999,c2000,c2001,c2002,c2003,c2004,c2005,c2006,c2007,c2008,c2009,c2010,c2011,c2012,c2013,c2014,c2015,c2016,c2017,c2018];
const lonTicks = [50, 100, 150];
const latTicks = [20, 0, -20, -40];
const legendTicks = [0, -10, -20, -30, -40];

const colX = [80, 311, 542, 772];
const rowTop = [48, 223, 398, 574, 749, 924, 1099];
const PANEL_W = 218, PANEL_H = 124, STRIP_H = 37, LEFT = 46, BOTTOM = 36, TOP_PAD = 18, RIGHT_PAD = 24;

function cpueColor(v: number) {
  const t = (CPUE_MAX - v) / (CPUE_MAX - CPUE_MIN);
  return `rgb(255,${Math.round(255 * Math.max(0, Math.min(1, t)))},0)`;
}

function Panel({ index }: { index: number }) {
  const ref = useRef<HTMLCanvasElement>(null);
  const showY = index % 4 === 0;
  const showX = index >= 22;
  useEffect(() => {
    const pts: any[] = [];
    const cols: string[] = [];
    for (const g of cellsByYear[index]) {
      for (let i = 1; i + 1 < g.length; i += 2) {
        pts.push({ x: g[i], y: g[i + 1] });
        cols.push(cpueColor(g[0]));
      }
    }
    const chart = new Chart(ref.current!, {
      type: "scatter",
      data: {
        datasets: [
          { data: pts, pointStyle: "rect", pointRadius: 2.2, pointBorderWidth: 0, pointBackgroundColor: cols, order: 1 } as any,
          { data: islets.map((p) => ({ x: p[0], y: p[1] })), pointStyle: "rect", pointRadius: 0.8, pointBorderWidth: 0, pointBackgroundColor: "#555", order: 2 } as any,
          ...landShapes.map((s) => ({
            data: s.map((p) => ({ x: p[0], y: p[1] })),
            showLine: true, fill: "shape", backgroundColor: "#333333", borderColor: "#333333",
            borderWidth: 0.5, pointRadius: 0, tension: 0, order: 3,
          } as any)),
        ],
      },
      options: {
        animation: false, responsive: false, events: [],
        layout: { padding: { top: TOP_PAD, right: RIGHT_PAD, left: 0, bottom: 0 }, autoPadding: false },
        plugins: { legend: { display: false }, tooltip: { enabled: false } },
        scales: {
          x: {
            type: "linear", min: LON_MIN, max: LON_MAX,
            afterFit: (s: any) => { s.height = BOTTOM; },
            border: { display: false },
            grid: {
              color: (c: any) => (lonTicks.includes(c.tick?.value) ? "#ebebeb" : "#f2f2f2"),
              lineWidth: (c: any) => (lonTicks.includes(c.tick?.value) ? 1.4 : 0.7),
              tickColor: (c: any) => (showX && lonTicks.includes(c.tick?.value) ? "#333333" : "rgba(0,0,0,0)"),
              tickLength: 4, drawTicks: true,
            },
            ticks: {
              display: showX, stepSize: 25, includeBounds: false, autoSkip: false, maxRotation: 0, padding: 6,
              color: "#4d4d4d", font: { family: FONT, size: 19 },
              callback: (v: any) => (lonTicks.includes(Number(v)) ? String(v) : ""),
            },
          },
          y: {
            type: "linear", min: LAT_MIN, max: LAT_MAX,
            afterFit: (s: any) => { s.width = LEFT; },
            border: { display: false },
            grid: {
              color: (c: any) => (latTicks.includes(c.tick?.value) ? "#ebebeb" : "#f2f2f2"),
              lineWidth: (c: any) => (latTicks.includes(c.tick?.value) ? 1.4 : 0.7),
              tickColor: (c: any) => (showY && latTicks.includes(c.tick?.value) ? "#333333" : "rgba(0,0,0,0)"),
              tickLength: 4, drawTicks: true,
            },
            ticks: {
              display: showY, stepSize: 10, includeBounds: false, autoSkip: false, padding: 3,
              color: "#4d4d4d", font: { family: FONT, size: 21 },
              callback: (v: any) => (latTicks.includes(Number(v)) ? String(v) : ""),
            },
          },
        },
      },
    } as any);
    return () => chart.destroy();
  }, [index]);
  const col = index % 4, row = Math.floor(index / 4);
  const x = colX[col], top = rowTop[row];
  return (
    <>
      <canvas ref={ref} width={LEFT + PANEL_W + RIGHT_PAD} height={TOP_PAD + PANEL_H + BOTTOM}
        style={{ position: "absolute", left: x - LEFT, top: top - TOP_PAD, width: LEFT + PANEL_W + RIGHT_PAD, height: TOP_PAD + PANEL_H + BOTTOM }} />
      <div style={{ position: "absolute", left: x, top: top - STRIP_H, width: PANEL_W, height: STRIP_H, boxSizing: "border-box", background: "#d9d9d9", border: "1.4px solid #555", color: "#1a1a1a", font: `19.5px ${FONT}`, lineHeight: `${STRIP_H}px`, textAlign: "center" }}>{years[index]}</div>
      <div style={{ position: "absolute", left: x, top, width: PANEL_W, height: PANEL_H, boxSizing: "border-box", border: "1.4px solid #555", pointerEvents: "none" }} />
    </>
  );
}

function Legend() {
  const ref = useRef<HTMLCanvasElement>(null);
  useEffect(() => {
    const whiteTicks = {
      id: "whiteTicks",
      afterDatasetsDraw(chart: any) {
        const { ctx, chartArea, scales } = chart;
        ctx.save();
        ctx.strokeStyle = "rgba(255,255,255,0.75)";
        ctx.lineWidth = 1;
        for (const v of legendTicks) {
          const y = scales.y.getPixelForValue(v);
          ctx.beginPath(); ctx.moveTo(chartArea.left, y); ctx.lineTo(chartArea.left + 8, y);
          ctx.moveTo(chartArea.right - 8, y); ctx.lineTo(chartArea.right, y); ctx.stroke();
        }
        ctx.restore();
      },
    };
    const chart = new Chart(ref.current!, {
      type: "bar",
      data: {
        labels: ["cpue"],
        datasets: [{
          data: [[CPUE_MIN, CPUE_MAX]], barPercentage: 1, categoryPercentage: 1, borderWidth: 0,
          backgroundColor: (c: any) => {
            const a = c.chart.chartArea;
            if (!a) return "#ff8000";
            const g = c.chart.ctx.createLinearGradient(0, a.top, 0, a.bottom);
            g.addColorStop(0, "#ff0000"); g.addColorStop(1, "#ffff00");
            return g;
          },
        }],
      },
      options: {
        animation: false, responsive: false, events: [],
        layout: { padding: { top: 30, bottom: 30, left: 0, right: 0 }, autoPadding: false },
        plugins: { legend: { display: false }, tooltip: { enabled: false } },
        scales: {
          x: { display: false },
          y: {
            position: "right", min: CPUE_MIN, max: CPUE_MAX,
            afterFit: (s: any) => { s.width = 48; },
            border: { display: false }, grid: { display: false, drawTicks: false },
            ticks: { stepSize: 10, includeBounds: false, padding: 12, color: "#1a1a1a", font: { family: FONT, size: 19.5 } },
          },
        },
      },
      plugins: [whiteTicks],
    } as any);
    return () => chart.destroy();
  }, []);
  return <canvas ref={ref} width={87} height={255} style={{ position: "absolute", left: 1028, top: 527, width: 87, height: 255 }} />;
}

export default function App() {
  return (
    <div style={{ position: "absolute", left: 0, top: 0, width: 1115, height: 1284, overflow: "hidden", background: "#fff", filter: "blur(0.35px)" }}>
      {years.map((_, i) => <Panel key={i} index={i} />)}
      <Legend />
      <div style={{ position: "absolute", left: 1028, top: 521, font: `24px ${FONT}`, color: "#000" }}>cpue</div>
      <div style={{ position: "absolute", left: 519, top: 1257, font: `23px ${FONT}`, color: "#000" }}>lon</div>
      <div style={{ position: "absolute", left: 22, top: 635, font: `23px ${FONT}`, color: "#000", transform: "translate(-50%,-50%) rotate(-90deg)" }}>lat</div>
    </div>
  );
}
